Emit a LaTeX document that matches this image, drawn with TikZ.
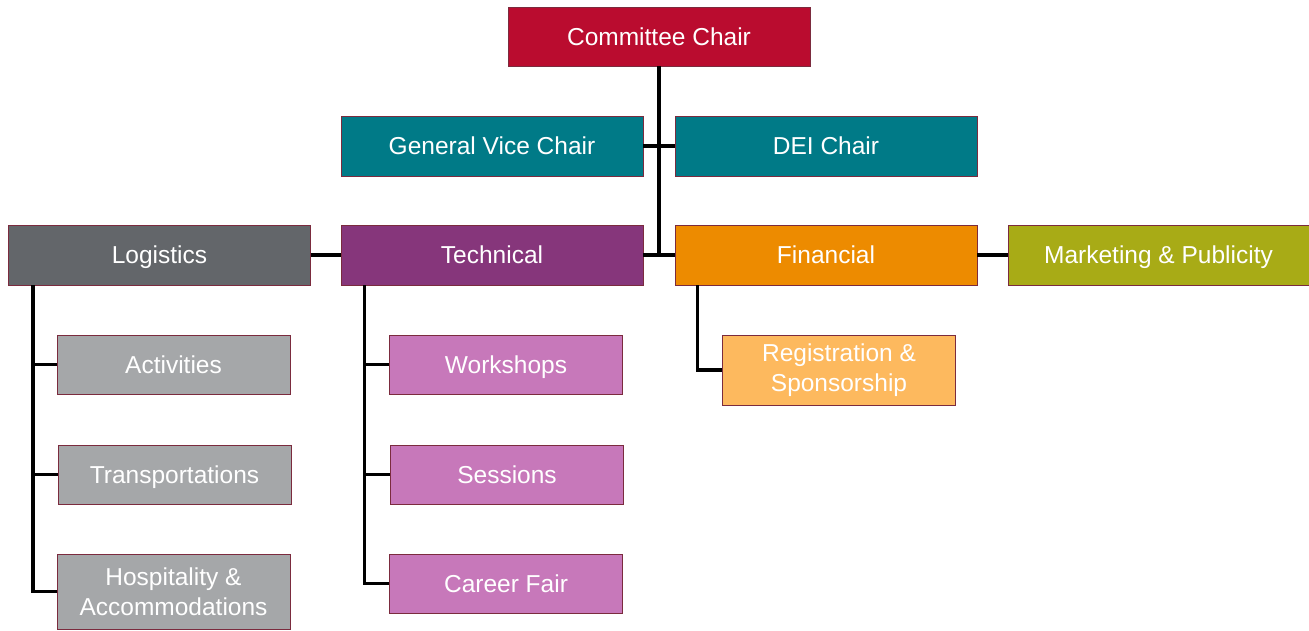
\documentclass[tikz,border=0pt]{standalone}
\usepackage{fontspec}
\setmainfont{Liberation Sans}
\definecolor{cchair}{HTML}{BA0C2F}
\definecolor{teal}{HTML}{007A87}
\definecolor{logi}{HTML}{63666A}
\definecolor{tech}{HTML}{86367B}
\definecolor{fina}{HTML}{ED8B00}
\definecolor{mark}{HTML}{A8AB16}
\definecolor{lgray}{HTML}{A5A7A9}
\definecolor{pink}{HTML}{C778BA}
\definecolor{lorange}{HTML}{FDB95E}
\definecolor{edge}{HTML}{7B2B3E}
\begin{document}
\begin{tikzpicture}[x=1pt,y=-1pt,
  base/.style={rectangle, draw=edge, line width=0.9pt, inner sep=0pt, text=white,
    align=center, font=\fontsize{24.5}{30}\selectfont},
  box/.style={base, text height=17.5pt, text depth=0.5pt},
  big/.style={box, minimum width=302pt, minimum height=60pt},
  small/.style={box, minimum width=233pt, minimum height=59pt},
  smalltwo/.style={base, minimum width=233pt},
  link/.style={line width=3.6pt, black, line join=miter}]
\useasboundingbox (0,0) rectangle (1309,630);
\node[big, fill=cchair, minimum height=59pt] (cc) at (659,36.5) {Committee Chair};
\node[big, fill=teal] (gvc) at (492,146) {General Vice Chair};
\node[big, fill=teal] (dei) at (826,146) {DEI Chair};
\node[big, fill=logi] (log) at (159.5,255) {Logistics};
\node[big, fill=tech] (tec) at (492,255) {Technical};
\node[big, fill=fina] (fin) at (826,255) {Financial};
\node[big, fill=mark, minimum width=301pt] (mkt) at (1158.5,255) {Marketing \& Publicity};
\node[small, fill=lgray] (act) at (173.5,364.5) {Activities};
\node[small, fill=lgray] (tra) at (174.5,474.5) {Transportations};
\node[smalltwo, fill=lgray, minimum height=75pt] (hos) at (173.5,591.5) {Hospitality \&\\Accommodations};
\node[small, fill=pink] (wor) at (506,364.5) {Workshops};
\node[small, fill=pink] (ses) at (507,474.5) {Sessions};
\node[small, fill=pink] (car) at (506,583.5) {Career Fair};
\node[smalltwo, fill=lorange, minimum height=70pt] (reg) at (839,370) {Registration \&\\Sponsorship};
\coordinate (lt) at ([xshift=25pt]log.south west);
\coordinate (tt) at ([xshift=24pt]tec.south west);
\coordinate (ft) at ([xshift=23pt]fin.south west);
\draw[link] (cc.south) -- (cc.south |- fin.west);
\draw[link] (gvc.east) -- (dei.west);
\draw[link] (tec.east) -- (fin.west);
\draw[link] (log.east) -- (tec.west);
\draw[link] (fin.east) -- (mkt.west);
\draw[link] (lt) |- (hos.west);
\draw[link] (act.west) -- (act.west -| lt);
\draw[link] (tra.west) -- (tra.west -| lt);
\draw[link] (tt) |- (car.west);
\draw[link] (wor.west) -- (wor.west -| tt);
\draw[link] (ses.west) -- (ses.west -| tt);
\draw[link] (ft) |- (reg.west);
\end{tikzpicture}
\end{document}
